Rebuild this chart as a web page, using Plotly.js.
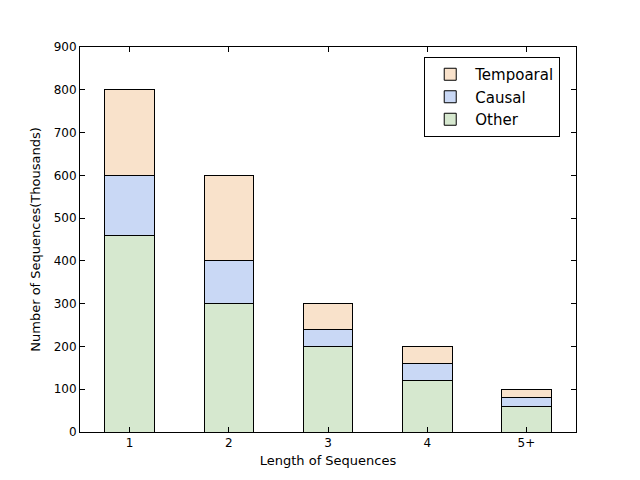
<!DOCTYPE html>
<html>
<head>
<meta charset="utf-8">
<script src="https://cdn.plot.ly/plotly-3.0.1.min.js"></script>
<style>body{margin:0;background:#fff}</style>
</head>
<body>
<div id="plot" style="width:640px;height:480px"></div>
<script>
let lengths = ["1", "2", "3", "4", "5+"];
let other = [460, 300, 200, 120, 60];
let causal = [140, 100, 40, 40, 20];
let temporal = [200, 200, 60, 40, 20];

function bar(name, y, color) {
  return {
    x: lengths,
    y: y,
    name: name,
    type: 'bar',
    width: 0.5,
    marker: { color: color, line: { color: 'black', width: 1 } }
  };
}

const traces = [
  bar('Other', other, '#d6e8cf'),
  bar('Causal', causal, '#c9d8f5'),
  bar('Tempoaral', temporal, '#f9e2cb')
];

const axisStyle = {
  showline: true, linecolor: 'black', linewidth: 1, mirror: 'ticks',
  ticks: 'inside', ticklen: 5, tickcolor: 'black',
  showgrid: false, zeroline: false,
  tickfont: { size: 12, color: 'black' }
};

const layout = {
  width: 640, height: 480,
  margin: { l: 80, r: 64, t: 47, b: 48 },
  font: { family: 'DejaVu Sans', color: 'black' },
  paper_bgcolor: 'white', plot_bgcolor: 'white',
  barmode: 'stack',
  xaxis: Object.assign({}, axisStyle, {
    type: 'category',
    range: [-0.5, 4.5],
    title: { text: 'Length of Sequences', font: { size: 13 }, standoff: 6 }
  }),
  yaxis: Object.assign({}, axisStyle, {
    range: [0, 900], dtick: 100,
    title: { text: 'Number of Sequences(Thousands)', font: { size: 13 }, standoff: 10 }
  }),
  showlegend: true,
  legend: {
    x: 0.694, y: 0.974, xanchor: 'left', yanchor: 'top',
    traceorder: 'reversed',
    itemwidth: 40,
    bordercolor: 'black', borderwidth: 1, bgcolor: 'white',
    font: { size: 15 }
  }
};

Plotly.newPlot('plot', traces, layout, { displayModeBar: false });
</script>
</body>
</html>
